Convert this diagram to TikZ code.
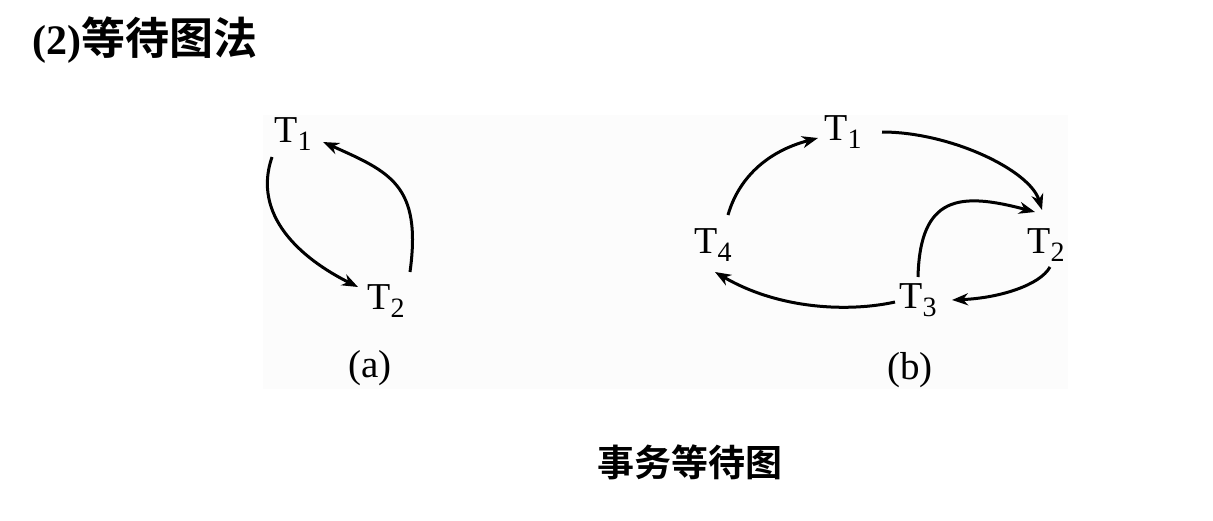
\documentclass[tikz,border=0pt]{standalone}
\usepackage{fontspec}
\setmainfont{Liberation Serif}
\newfontfamily\cjkbold{Noto Sans CJK SC Bold}
\newfontfamily\serifbold{Liberation Serif Bold}
\usetikzlibrary{arrows.meta,calc}
\definecolor{panelbg}{RGB}{252,252,252}
\newcommand\Tlab[1]{\fontsize{38}{40}\selectfont T\raisebox{-0.22em}{\fontsize{28}{30}\selectfont #1}}
\tikzset{
  tnode/.style={inner sep=0pt, anchor=center},
  wait/.style={line width=3pt, -{Stealth[length=16pt,width=12pt,inset=5pt]}},
  sub/.style={inner sep=0pt, font=\fontsize{39}{40}\selectfont},
}
\begin{document}
\begin{tikzpicture}[x=1pt,y=-1pt]
\useasboundingbox[fill=white] (0,0) rectangle (1213,520);
\fill[panelbg] (263,115) rectangle (1068,389);
% title
\node[inner sep=0pt, anchor=west] (title) at (32,40) {\serifbold\fontsize{42}{44}\selectfont (2)\cjkbold\fontsize{44}{46}\selectfont 等待图法};
% (a)
\node[tnode] (aT1) at (293,134) {\Tlab{1}};
\node[tnode] (aT2) at (386,301) {\Tlab{2}};
\node[sub] (alab) at (370,368) {(a)};
\draw[wait] ($(aT1.center)+(-21,23)$) .. controls (252,215) and (300,258) .. ($(aT2.center)+(-28,-14)$);
\draw[wait] ($(aT2.center)+(24,-29)$) .. controls (422,185) and (390,172) .. ($(aT1.center)+(30,8)$);
% (b)
\node[tnode] (bT1) at (843,132) {\Tlab{1}};
\node[tnode] (bT4) at (713,245) {\Tlab{4}};
\node[tnode] (bT2) at (1046,245) {\Tlab{2}};
\node[tnode] (bT3) at (918,300) {\Tlab{3}};
\node[sub] (blab) at (910,370) {(b)};
\draw[wait] ($(bT4.center)+(15,-30)$) .. controls (738,180) and (765,152) .. ($(bT1.center)+(-25,6)$);
\draw[wait] ($(bT1.center)+(39,0)$) .. controls (950,132) and (1030,170) .. ($(bT2.center)+(-4,-35)$);
\draw[wait] ($(bT3.center)+(0,-23)$) .. controls (920,195) and (960,192) .. ($(bT2.center)+(-11,-33)$);
\draw[wait] ($(bT2.center)+(4,22)$) .. controls (1040,285) and (1000,298) .. ($(bT3.center)+(34,0)$);
\draw[wait] ($(bT3.center)+(-23,2)$) .. controls (850,312) and (780,310) .. ($(bT4.center)+(2,27)$);
% caption
\node[inner sep=0pt] (cap) at (690,462) {\cjkbold\fontsize{37}{40}\selectfont 事务等待图};
\end{tikzpicture}
\end{document}
